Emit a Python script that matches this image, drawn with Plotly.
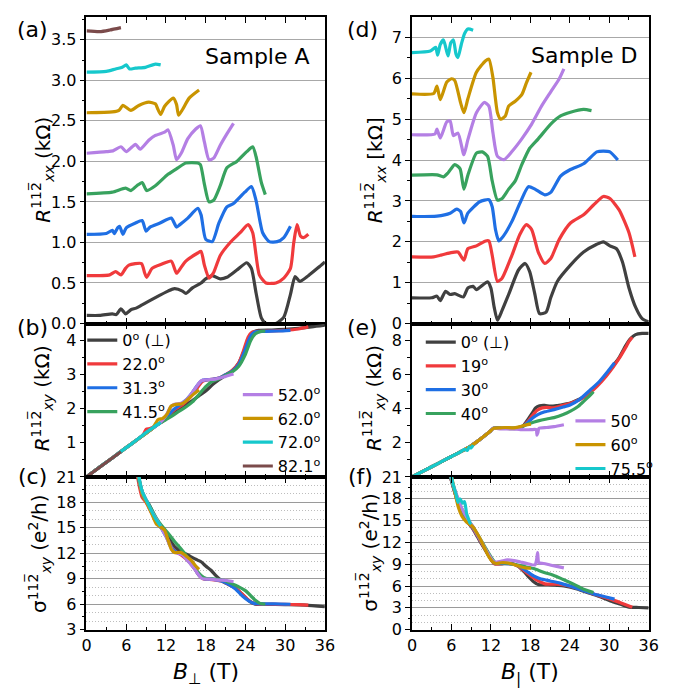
import plotly.graph_objects as go

# ---------------- DATA (B in T) ----------------
angles_A = ["0<sup>o</sup> (⊥)", "22.0<sup>o</sup>", "31.3<sup>o</sup>", "41.5<sup>o</sup>",
            "52.0<sup>o</sup>", "62.0<sup>o</sup>", "72.0<sup>o</sup>", "82.1<sup>o</sup>"]
angles_D = ["0<sup>o</sup> (⊥)", "19<sup>o</sup>", "30<sup>o</sup>", "40<sup>o</sup>",
            "50<sup>o</sup>", "60<sup>o</sup>", "75.5<sup>o</sup>"]
colors = ["#404040", "#f03a3c", "#1f6fe4", "#38a25e", "#b47fe4", "#c99400", "#16c8cc", "#7b4b4b"]

# Sample A, Rxx (kOhm, curves offset as in the figure)
A_rxx_0 = [(0,0.10),(2,0.10),(3.9,0.12),(4.5,0.11),(5.2,0.18),(5.9,0.12),(6.7,0.17),(7.5,0.19),(8.4,0.23),(10.4,0.32),(12.3,0.40),(13.3,0.43),(14.5,0.40),(15.0,0.37),(16.0,0.44),(17.3,0.50),(18.0,0.55),(19.0,0.59),(20.2,0.55),(21.2,0.57),(22.7,0.66),(24.2,0.75),(24.9,0.68),(25.6,0.38),(26.4,0.07),(27.1,0.0),(28.6,0.0),(29.8,0.08),(30.8,0.36),(31.5,0.58),(32.2,0.52),(33.5,0.59),(35.0,0.69),(36.0,0.76)]
A_rxx_22 = [(0,0.59),(3.5,0.60),(4.4,0.64),(5.2,0.60),(5.9,0.68),(6.4,0.72),(8.3,0.74),(8.8,0.62),(9.1,0.57),(9.9,0.68),(11.3,0.73),(12.8,0.77),(13.6,0.62),(14.1,0.67),(15.0,0.77),(16.8,0.87),(17.3,0.89),(17.8,0.72),(18.5,0.56),(19.2,0.63),(20.2,0.84),(21.7,1.00),(23.2,1.12),(24.4,1.22),(25.1,1.12),(26.1,0.60),(27.1,0.50),(28.6,0.50),(29.8,0.56),(30.8,0.68),(31.3,1.00),(31.8,1.22),(32.3,1.08),(32.8,1.06),(33.5,1.10)]
A_rxx_31 = [(0,1.10),(3.0,1.11),(3.9,1.15),(4.2,1.11),(4.7,1.18),(5.0,1.20),(5.5,1.10),(6.0,1.18),(7.4,1.24),(8.4,1.27),(9.0,1.14),(9.6,1.19),(11.1,1.24),(12.8,1.30),(13.6,1.19),(14.1,1.22),(15.3,1.30),(16.8,1.42),(17.3,1.34),(18.0,1.04),(19.0,1.01),(20.0,1.24),(21.2,1.44),(22.2,1.48),(23.9,1.62),(24.9,1.69),(25.6,1.52),(26.6,1.12),(27.6,1.01),(28.8,1.01),(29.8,1.06),(30.8,1.20)]
A_rxx_41 = [(0,1.60),(3.9,1.62),(5.9,1.67),(6.7,1.64),(7.6,1.70),(8.4,1.74),(9.1,1.64),(10.4,1.70),(12.3,1.84),(13.8,1.92),(15.0,1.98),(16.8,1.98),(17.2,1.96),(17.8,1.72),(18.5,1.50),(19.2,1.52),(20.2,1.70),(21.2,1.92),(22.7,2.00),(24.2,2.12),(25.1,2.18),(25.6,2.06),(26.4,1.74),(27.0,1.59)]
A_rxx_52 = [(0,2.10),(3.0,2.12),(4.0,2.13),(5.2,2.18),(6.0,2.12),(6.9,2.18),(7.4,2.21),(8.1,2.15),(9.4,2.26),(10.4,2.32),(11.8,2.36),(12.3,2.39),(13.1,2.20),(13.6,2.02),(14.3,2.10),(15.3,2.28),(16.5,2.40),(17.2,2.44),(17.8,2.24),(18.5,2.02),(19.2,2.04),(20.2,2.20),(21.2,2.34),(22.2,2.47)]
A_rxx_62 = [(0,2.60),(3.9,2.61),(4.9,2.63),(5.5,2.69),(6.7,2.63),(7.9,2.69),(9.4,2.73),(10.4,2.71),(10.8,2.64),(11.2,2.58),(11.8,2.68),(13.1,2.78),(13.6,2.70),(13.9,2.57),(14.5,2.64),(15.5,2.78),(17.0,2.88)]
A_rxx_72 = [(0,3.10),(3.0,3.11),(4.4,3.14),(5.4,3.16),(6.0,3.19),(6.5,3.14),(7.4,3.15),(8.9,3.16),(10.4,3.20),(11.2,3.19)]
A_rxx_82 = [(0,3.61),(2.0,3.60),(3.5,3.62),(5.2,3.65)]

# Sample A, Rxy (kOhm)
A_rxy_0 = [(0,0),(2,0.29),(4,0.57),(6,0.86),(8,1.14),(10,1.43),(12,1.71),(13,1.86),(14,2.00),(15,2.12),(16,2.24),(17,2.38),(18,2.52),(19,2.70),(20,2.85),(21,2.98),(22,3.12),(23,3.35),(23.8,3.70),(24.5,4.05),(25.2,4.25),(26,4.30),(28,4.31),(30,4.33),(32,4.36),(34,4.40),(36,4.45)]
A_rxy_22 = [(0,0),(2,0.29),(4,0.57),(6,0.86),(8,1.14),(8.6,1.25),(9.0,1.40),(9.6,1.42),(11,1.57),(12,1.72),(12.5,1.83),(13.5,2.00),(14.5,2.12),(15.5,2.30),(16.5,2.55),(17.5,2.80),(18,2.84),(19,2.86),(20,2.90),(21,3.00),(22,3.12),(23,3.35),(23.7,3.70),(24.4,4.10),(25,4.25),(26,4.27),(28,4.28),(30,4.30),(32,4.34),(33.5,4.40)]
A_rxy_31 = [(0,0),(2,0.29),(4,0.57),(6,0.86),(8,1.14),(10,1.43),(11,1.57),(12,1.72),(13,1.95),(14,2.10),(15,2.25),(16,2.48),(17,2.75),(17.6,2.84),(19,2.86),(20,2.90),(21,3.00),(22,3.10),(23,3.30),(23.9,3.70),(24.7,4.10),(25.4,4.25),(27,4.27),(29,4.28),(30.8,4.30)]
A_rxy_41 = [(0,0),(2,0.29),(4,0.57),(6,0.86),(8,1.14),(10,1.43),(11,1.56),(12,1.68),(13,1.80),(14,1.93),(15,2.05),(16,2.20),(17,2.42),(18,2.65),(19,2.80),(20,2.88),(21,2.98),(22,3.08),(23,3.25),(24,3.60),(24.8,4.00),(25.5,4.20),(26.3,4.27),(27,4.28)]
A_rxy_52 = [(0,0),(2,0.29),(4,0.57),(6,0.86),(8,1.14),(10,1.43),(11,1.57),(12,1.80),(12.7,2.05),(13.3,2.13),(14.5,2.17),(15.5,2.35),(16.5,2.62),(17.3,2.82),(18,2.85),(19.5,2.87),(21,2.95),(22.2,3.02)]
A_rxy_62 = [(0,0),(2,0.29),(4,0.57),(6,0.86),(8,1.14),(10,1.43),(10.8,1.68),(11.5,1.72),(12.2,1.85),(12.8,2.08),(13.5,2.13),(14.3,2.14),(15,2.22),(16,2.40),(17,2.55)]
A_rxy_72 = [(0,0),(2,0.29),(4,0.57),(5,0.72),(7,1.00),(9,1.30),(10,1.44),(11.2,1.60)]
A_rxy_82 = [(0,0),(2.5,0.36),(5.2,0.74)]

# Sample A, sigma_xy (e^2/h)
A_sxy_0 = [(7.6,21.5),(8.0,20.5),(8.6,18.8),(9.4,17.8),(10.2,16.5),(10.8,15.4),(11.8,14.6),(12.6,13.6),(13.3,12.8),(14.3,12.2),(15.3,11.8),(16.5,11.3),(17.3,11.0),(18.0,10.5),(18.8,10.0),(19.5,9.4),(20.2,8.9),(21.0,8.5),(21.7,8.3),(22.5,7.9),(23.2,7.4),(24.0,6.8),(24.7,6.3),(25.5,6.0),(27,5.98),(30,5.95),(33,5.9),(36,5.7)]
A_sxy_22 = [(7.6,21.5),(8.0,19.8),(8.4,18.6),(9.0,18.0),(9.8,16.8),(10.8,15.6),(11.8,14.4),(12.8,12.8),(13.5,12.2),(14.5,11.7),(15.5,11.0),(16.3,10.2),(17.0,9.4),(17.6,9.0),(19,8.9),(20.5,8.7),(21.5,8.3),(22.5,7.9),(23.5,7.2),(24.3,6.6),(25,6.2),(26,6.0),(28,6.0),(30,5.98),(32,5.95),(33.5,5.9)]
A_sxy_31 = [(7.7,21.5),(8.1,20.0),(8.6,18.6),(9.3,17.9),(10.2,16.5),(11.0,15.4),(12.0,14.0),(12.9,12.6),(13.6,12.1),(14.6,11.8),(15.5,11.0),(16.4,10.1),(17.1,9.3),(17.7,9.0),(19,8.95),(20.5,8.7),(21.5,8.3),(22.5,7.8),(23.5,7.0),(24.5,6.4),(25.3,6.1),(26.5,6.05),(28.5,6.05),(30.8,6.0)]
A_sxy_41 = [(7.7,21.5),(8.1,20.0),(8.8,18.6),(9.6,17.5),(10.5,16.2),(11.3,15.3),(12.3,14.4),(13.3,13.4),(14.2,12.6),(15.0,11.8),(15.8,10.9),(16.6,10.0),(17.3,9.4),(18,9.05),(19.5,8.95),(21,8.75),(22,8.4),(23,8.05),(24,7.6),(24.8,7.0),(25.6,6.4),(26.2,6.1),(27,6.0)]
A_sxy_52 = [(7.8,21.5),(8.3,19.5),(9.0,18.3),(9.8,17.0),(10.5,16.1),(11.3,15.0),(12.0,14.0),(12.6,12.9),(13.1,12.2),(14.0,11.95),(14.5,11.8),(15.2,11.2),(16.0,10.5),(16.8,9.6),(17.4,9.05),(18.5,8.95),(20,8.85),(21.2,8.8),(22.2,8.65)]
A_sxy_62 = [(7.8,21.5),(8.4,19.0),(9.2,17.8),(10.0,16.4),(10.6,15.4),(11.2,15.1),(11.8,14.7),(12.3,13.6),(12.8,12.5),(13.3,12.1),(14.3,12.1),(15.0,11.7),(15.8,11.2),(16.4,10.6),(17,10.1)]
A_sxy_72 = [(7.8,21.5),(8.4,19.3),(9.0,18.3),(9.8,17.0),(10.5,16.0),(11.2,15.2)]

# Sample D, Rxx (kOhm, offset curves)
D_rxx_0 = [(0,0.63),(3.0,0.63),(3.8,0.67),(4.3,0.56),(5.1,0.79),(5.8,0.71),(6.5,0.73),(7.8,0.65),(8.5,0.87),(9.3,0.91),(9.8,0.83),(11.5,1.02),(12.0,0.87),(12.5,0.40),(13.0,0.08),(13.7,0.32),(14.7,0.71),(16.2,1.31),(17.2,1.47),(17.9,1.27),(18.7,0.71),(19.4,0.24),(20.4,0.28),(21.1,0.63),(22.1,1.03),(24.1,1.43),(26.1,1.75),(28.1,1.94),(29.1,2.00),(30.1,1.90),(31.1,1.83),(32.0,1.51),(33.0,0.87),(34.0,0.40),(35.0,0.12),(36.0,0.04)]
D_rxx_19 = [(0,1.63),(3.3,1.63),(4.3,1.67),(5.8,1.73),(7.0,1.75),(7.9,1.55),(8.5,1.83),(9.8,1.90),(11.2,2.02),(11.7,2.02),(12.2,1.67),(13.0,1.03),(13.7,1.11),(15.2,1.67),(16.4,2.18),(17.4,2.42),(18.2,2.30),(19.2,1.75),(20.2,1.47),(21.1,1.59),(22.4,2.06),(24.1,2.46),(26.1,2.66),(27.6,2.90),(29.1,3.11),(30.1,3.06),(31.5,2.78),(33.0,2.22),(33.9,1.63)]
D_rxx_30 = [(0,2.62),(3.8,2.63),(5.8,2.70),(6.8,2.80),(7.4,2.74),(7.9,2.46),(8.5,2.70),(10.3,2.98),(11.7,3.03),(12.2,2.86),(12.7,2.30),(13.2,2.02),(13.9,2.14),(15.2,2.50),(16.4,2.94),(17.7,3.35),(18.7,3.29),(20.2,3.15),(21.1,3.21),(22.6,3.61),(24.1,3.77),(26.1,3.91),(28.1,4.20),(29.1,4.22),(30.1,4.20),(31.3,4.00)]
D_rxx_40 = [(0,3.63),(3.8,3.64),(4.8,3.59),(5.5,3.69),(6.5,3.89),(7.3,3.79),(7.9,3.29),(8.5,3.63),(9.8,4.17),(10.7,4.20),(11.5,4.09),(12.2,3.49),(13.0,3.02),(13.7,3.06),(14.7,3.29),(15.7,3.49),(16.7,3.89),(17.9,4.29),(19.2,4.52),(21.1,4.88),(22.6,5.08),(24.1,5.17),(26.1,5.24),(27.3,5.21)]
D_rxx_50 = [(0,4.62),(3.5,4.64),(3.8,4.76),(4.3,4.54),(5.3,4.94),(5.8,4.96),(6.3,4.60),(7.0,4.66),(7.9,4.13),(8.5,4.50),(9.8,5.16),(11.0,5.41),(11.7,5.32),(12.3,4.68),(13.0,4.09),(14.0,4.01),(15.2,4.21),(16.7,4.52),(18.2,4.88),(19.7,5.32),(21.1,5.67),(22.4,5.99),(23.1,6.23)]
D_rxx_60 = [(0,5.62),(3.3,5.63),(3.8,5.81),(4.3,5.48),(5.3,5.91),(6.0,5.99),(6.5,5.95),(7.4,5.40),(7.9,5.16),(8.5,5.50),(9.8,6.15),(11.2,6.43),(11.7,6.47),(12.3,6.03),(13.0,5.16),(13.5,5.00),(14.2,5.08),(14.7,5.32),(15.7,5.44),(16.7,5.60),(17.4,5.89),(18.1,6.15)]
D_rxx_75 = [(0,6.63),(2.8,6.67),(3.6,6.76),(3.9,6.57),(4.3,6.83),(4.8,6.94),(5.2,6.71),(5.5,6.55),(5.9,6.87),(6.3,6.94),(6.7,6.59),(7.0,6.51),(7.5,6.83),(8.0,7.10),(8.5,7.21),(9.3,7.18)]

# Sample D, Rxy (kOhm)
D_rxy_0 = [(0,0),(2,0.40),(4,0.80),(6,1.20),(8,1.60),(9,1.82),(10,2.10),(11,2.40),(11.8,2.65),(12.4,2.85),(14,2.85),(15,2.83),(16,2.85),(16.8,2.95),(17.5,3.30),(18.2,3.70),(18.8,4.05),(19.4,4.18),(20.2,4.20),(21,4.15),(22,4.18),(23,4.25),(24.1,4.34),(25,4.48),(26.1,4.70),(27,4.95),(28.1,5.38),(29.5,5.95),(30.6,6.52),(31.5,7.00),(32.5,7.70),(33.2,8.10),(34,8.35),(35,8.42),(36,8.42)]
D_rxy_19 = [(0,0),(2,0.40),(4,0.80),(6,1.20),(8,1.60),(9,1.82),(10,2.10),(11,2.40),(11.8,2.65),(12.4,2.85),(14,2.85),(16,2.86),(16.8,2.95),(17.5,3.20),(18.3,3.60),(19,3.90),(19.8,4.05),(20.5,4.08),(21.5,4.05),(22.5,4.15),(24,4.30),(25,4.45),(26.1,4.65),(27,4.92),(28.1,5.30),(29.5,5.90),(30.6,6.45),(31.5,6.95),(32.5,7.60),(33,7.95),(33.5,8.20)]
D_rxy_30 = [(0,0),(2,0.40),(4,0.80),(6,1.20),(8,1.60),(9,1.82),(10,2.10),(11,2.40),(11.8,2.65),(12.4,2.85),(14,2.85),(16,2.86),(16.8,2.95),(17.5,3.15),(18.3,3.45),(19.2,3.67),(20.2,3.82),(21.6,3.95),(23,4.10),(24.1,4.24),(25.5,4.55),(27.1,5.10),(28.5,5.60),(29.8,6.20),(30.8,6.70)]
D_rxy_40 = [(0,0),(2,0.40),(4,0.80),(6,1.20),(8,1.60),(9,1.82),(10,2.10),(11,2.40),(11.8,2.65),(12.4,2.85),(14,2.85),(16,2.88),(17,3.00),(18,3.15),(19.2,3.29),(20.5,3.40),(21.6,3.48),(23,3.66),(24.1,3.86),(25.2,4.12),(26.1,4.43),(27,4.75),(27.6,5.00)]
D_rxy_50 = [(0,0),(2,0.40),(4,0.80),(6,1.20),(8,1.60),(9,1.82),(10,2.10),(11,2.40),(11.8,2.65),(12.4,2.85),(13.5,2.82),(15.2,2.82),(16.5,2.78),(18,2.77),(18.9,2.78),(19.0,2.45),(19.15,2.60),(19.3,2.85),(20.5,2.90),(21.6,2.95),(23.1,3.06)]
D_rxy_60 = [(0,0),(2,0.40),(4,0.80),(6,1.20),(8,1.60),(9,1.82),(10,2.10),(11,2.40),(11.8,2.65),(12.4,2.85),(13.5,2.88),(14.2,2.90),(15.5,2.88),(16.5,2.95),(17.3,3.05),(18.1,3.10)]
D_rxy_75 = [(0,0),(2,0.40),(4,0.80),(6,1.20),(7.5,1.50),(8,1.62),(8.4,1.55),(8.7,1.75),(9.0,1.70),(9.3,1.87)]

# Sample D, sigma_xy (e^2/h)
D_sxy_0 = [(5.6,22),(5.9,20.8),(6.5,18.9),(7.0,17.4),(7.5,16.2),(8.3,15.0),(9.3,13.8),(10.0,12.7),(10.7,11.6),(11.5,10.4),(12.5,9.1),(13.5,9.05),(15.2,9.1),(16.2,8.7),(17.0,8.0),(17.7,7.3),(18.5,6.6),(19.2,6.2),(20.7,6.2),(22,6.1),(23.1,6.0),(25.1,5.6),(27,5.0),(28.1,4.7),(30.6,3.8),(32,3.4),(33,3.1),(34.5,3.05),(36,3.0)]
D_sxy_19 = [(5.6,22),(6.0,20.5),(6.6,18.6),(7.3,16.9),(8.2,15.2),(9.2,14.0),(10.2,12.5),(11.3,10.8),(12.5,9.1),(14,9.1),(15.5,9.0),(16.5,8.5),(17.5,7.8),(18.5,7.1),(19.2,6.7),(20.2,6.3),(22,6.25),(23.5,6.1),(25.5,5.6),(28,4.8),(30.5,4.1),(32,3.6),(33.5,3.1)]
D_sxy_30 = [(5.6,22),(6.0,20.6),(6.6,18.7),(7.3,17.0),(8.2,15.3),(9.2,14.1),(10.2,12.6),(11.3,10.9),(12.5,9.2),(14,9.1),(15.5,9.0),(16.5,8.6),(17.5,8.0),(18.5,7.4),(19.5,7.0),(21,6.7),(22.5,6.4),(24,6.0),(26,5.4),(28.1,4.8),(29.5,4.5),(30.8,4.2)]
D_sxy_40 = [(5.6,22),(6.0,20.6),(6.7,18.6),(7.4,17.0),(8.3,15.4),(9.3,14.1),(10.3,12.6),(11.4,10.9),(12.6,9.3),(14,9.2),(15.5,9.0),(17,8.7),(18.5,8.4),(20,7.9),(21.5,7.5),(23,6.9),(24.5,6.3),(26,5.6),(27.6,5.1)]
D_sxy_50 = [(5.7,22),(6.1,20.5),(6.8,18.5),(7.5,16.8),(8.5,15.2),(9.5,13.8),(10.5,12.2),(11.5,10.6),(12.5,9.3),(13.5,9.4),(14.5,9.6),(15.5,9.5),(16.5,9.3),(17.5,9.1),(18.7,8.9),(18.95,9.6),(19.1,10.6),(19.3,9.2),(20,9.1),(21,8.9),(22,8.7),(23.1,8.5)]
D_sxy_60 = [(5.8,22),(6.1,20.7),(6.5,19.0),(7.0,17.0),(7.6,15.6),(8.3,14.8),(9.2,14.2),(10.3,12.6),(11.0,11.3),(11.7,10.0),(12.3,9.3),(12.8,9.1),(13.5,9.2),(14.2,9.2),(15,9.1),(15.7,8.9),(16.5,8.65),(17.2,8.5),(18.1,8.45)]
D_sxy_75 = [(5.8,22),(6.2,20.2),(6.7,18.6),(7.0,17.5),(7.3,18.0),(7.7,17.4),(8.0,17.6),(8.3,16.0),(8.6,15.2),(8.8,14.7),(9.0,14.5)]

A_rxx = [A_rxx_0, A_rxx_22, A_rxx_31, A_rxx_41, A_rxx_52, A_rxx_62, A_rxx_72, A_rxx_82]
A_rxy = [A_rxy_0, A_rxy_22, A_rxy_31, A_rxy_41, A_rxy_52, A_rxy_62, A_rxy_72, A_rxy_82]
A_sxy = [A_sxy_0, A_sxy_22, A_sxy_31, A_sxy_41, A_sxy_52, A_sxy_62, A_sxy_72, None]
D_rxx = [D_rxx_0, D_rxx_19, D_rxx_30, D_rxx_40, D_rxx_50, D_rxx_60, D_rxx_75]
D_rxy = [D_rxy_0, D_rxy_19, D_rxy_30, D_rxy_40, D_rxy_50, D_rxy_60, D_rxy_75]
D_sxy = [D_sxy_0, D_sxy_19, D_sxy_30, D_sxy_40, D_sxy_50, D_sxy_60, D_sxy_75]

# ---------------- FIGURE ----------------
FONT = "DejaVu Sans"
fig = go.Figure()

def add(curve, xa, ya, color, name=None, legend=None, group=None):
    if curve is None:
        return
    fig.add_trace(go.Scatter(
        x=[p[0] for p in curve], y=[p[1] for p in curve], mode="lines",
        line=dict(color=color, width=3.2, shape="spline", smoothing=0.6),
        xaxis=xa, yaxis=ya, name=name or "", showlegend=legend is not None,
        legend=legend or "legend", legendgroup=group, hoverinfo="skip"))

for i, c in enumerate(A_rxx):
    add(c, "x", "y", colors[i])
for i, c in enumerate(A_rxy):
    add(c, "x2", "y2", colors[i], angles_A[i], "legend" if i < 4 else "legend2", "a%d" % i)
for i, c in enumerate(A_sxy):
    add(c, "x3", "y3", colors[i])
for i, c in enumerate(D_rxx):
    add(c, "x4", "y4", colors[i])
for i, c in enumerate(D_rxy):
    add(c, "x5", "y5", colors[i], angles_D[i], "legend3" if i < 4 else "legend4", "d%d" % i)
for i, c in enumerate(D_sxy):
    add(c, "x6", "y6", colors[i])
# empty traces so the tick-only overlay axes exist
fig.add_trace(go.Scatter(x=[], y=[], xaxis="x3", yaxis="y7", showlegend=False, hoverinfo="skip"))
fig.add_trace(go.Scatter(x=[], y=[], xaxis="x6", yaxis="y8", showlegend=False, hoverinfo="skip"))

W, H = 691, 700
LX = [83.3 / W, 327 / W]
RX = [416 / W, 658 / W]
Y1 = [1 - 323.3 / H, 1 - 8.3 / H]
Y2 = [1 - 481 / H, 1 - 323.3 / H]
Y3 = [1 - 638 / H, 1 - 481 / H]

tickfont = dict(family=FONT, size=16, color="black")

def xax(domain, anchor, labels):
    return dict(domain=domain, anchor=anchor, range=[0, 36], tickvals=[0, 6, 12, 18, 24, 30, 36],
                showticklabels=labels, ticks="inside", ticklen=6, tickwidth=1.2, tickcolor="black",
                minor=dict(dtick=3, tick0=0, ticks="inside", ticklen=3, tickcolor="black"),
                showline=True, linecolor="black", linewidth=1.5, mirror="ticks",
                showgrid=False, zeroline=False, tickfont=tickfont)

def yax(domain, anchor, rng, tickvals, ticktext=None, minor=None):
    d = dict(domain=domain, anchor=anchor, range=rng, tickvals=tickvals,
             ticks="outside", ticklen=5, tickwidth=1.2, tickcolor="black",
             showline=True, linecolor="black", linewidth=1.5, mirror=True,
             zeroline=False, tickfont=tickfont, showgrid=False)
    if ticktext is not None:
        d["ticktext"] = ticktext
    if minor is not None:
        d["minor"] = dict(tickvals=minor, ticks="outside", ticklen=3, tickcolor="black")
    return d

def tickonly(domain, anchor, over, rng, vals):
    return dict(domain=domain, anchor=anchor, overlaying=over, range=rng, tickvals=vals,
                ticks="outside", ticklen=3, tickwidth=1.2, tickcolor="black",
                showticklabels=False, showline=False, showgrid=False, zeroline=False)

a_ticks = [0, 0.5, 1.0, 1.5, 2.0, 2.5, 3.0, 3.5]
fig.update_layout(
    xaxis=xax(LX, "y", False),
    xaxis2=xax(LX, "y2", False),
    xaxis3=xax(LX, "y3", True),
    xaxis4=xax(RX, "y4", False),
    xaxis5=xax(RX, "y5", False),
    xaxis6=xax(RX, "y6", True),
    yaxis=yax(Y1, "x", [0, 3.78], a_ticks, ["%.1f" % v for v in a_ticks],
              minor=[0.25, 0.75, 1.25, 1.75, 2.25, 2.75, 3.25, 3.75]),
    yaxis2=yax(Y2, "x2", [0, 4.5], [1, 2, 3, 4], minor=[0.5, 1.5, 2.5, 3.5, 4.5]),
    yaxis3=yax(Y3, "x3", [3, 21], [3, 6, 9, 12, 15, 18, 21]),
    yaxis4=yax(Y1, "x4", [0, 7.5], [0, 1, 2, 3, 4, 5, 6, 7], minor=[0.5, 1.5, 2.5, 3.5, 4.5, 5.5, 6.5]),
    yaxis5=yax(Y2, "x5", [0, 9], [2, 4, 6, 8], minor=[1, 3, 5, 7, 9]),
    yaxis6=yax(Y3, "x6", [0, 21], [0, 3, 6, 9, 12, 15, 18, 21]),
    yaxis7=tickonly(Y3, "x3", "y3", [3, 21], [4.5, 7.5, 10.5, 13.5, 16.5, 19.5]),
    yaxis8=tickonly(Y3, "x6", "y6", [0, 21], [1.5, 4.5, 7.5, 10.5, 13.5, 16.5, 19.5]),
)

# gridlines
fig.layout.yaxis.update(showgrid=True, gridcolor="#a8a8a8", gridwidth=1.2)
fig.layout.yaxis4.update(showgrid=True, gridcolor="#a8a8a8", gridwidth=1.2)
for ax in ["yaxis3", "yaxis6"]:
    fig.layout[ax].update(showgrid=True, gridcolor="#9a9a9a", gridwidth=1.2,
                          minor=dict(dtick=1, tick0=0, ticks="", showgrid=True,
                                     gridcolor="#bdbdbd", griddash="1px,2px", gridwidth=1))

legfont = dict(family=FONT, size=16, color="black")
def leg(x, ytop):
    return dict(x=x / W, y=1 - ytop / H, xanchor="left", yanchor="top", bgcolor="rgba(0,0,0,0)",
                font=legfont, tracegroupgap=0, itemwidth=30, borderwidth=0)

fig.update_layout(
    legend=leg(79, 323), legend2=leg(238, 379),
    legend3=leg(425, 325), legend4=leg(578, 406),
)

ann = []
def txt(x, y, s, size, angle=0, xanchor="center"):
    ann.append(dict(x=x / W, y=1 - y / H, xref="paper", yref="paper", text=s, showarrow=False,
                    textangle=angle, xanchor=xanchor, yanchor="middle",
                    font=dict(family=FONT, size=size, color="black")))

sup = "11" + "2\u0305"
txt(28, 21, "(a)", 22); txt(28, 327, "(b)", 22); txt(28, 481, "(c)", 22)
txt(365, 21, "(d)", 22); txt(365, 327, "(e)", 22); txt(363, 481, "(f)", 22)
txt(258, 49, "Sample A", 22); txt(592, 48, "Sample D", 22)
txt(38, 165, "<i>R</i><sup>%s</sup><sub><i>xx</i></sub> (kΩ)" % sup, 20, -90)
txt(37, 400, "<i>R</i><sup>%s</sup><sub><i>xy</i></sub> (kΩ)" % sup, 20, -90)
txt(35, 560, "σ<sup>%s</sup><sub><i>xy</i></sub> (e<sup>2</sup>/h)" % sup, 20, -90)
txt(378, 166, "<i>R</i><sup>%s</sup><sub><i>xx</i></sub> [kΩ]" % sup, 20, -90)
txt(376, 400, "<i>R</i><sup>%s</sup><sub><i>xy</i></sub> (kΩ)" % sup, 20, -90)
txt(373, 558, "σ<sup>%s</sup><sub><i>xy</i></sub> (e<sup>2</sup>/h)" % sup, 20, -90)
txt(205, 683, "<i>B</i><sub>⊥</sub> (T)", 22)
txt(537, 683, "<i>B</i><sub>|</sub> (T)", 22)

fig.update_layout(width=W, height=H, margin=dict(l=0, r=0, t=0, b=0),
                  paper_bgcolor="white", plot_bgcolor="white", annotations=ann,
                  font=dict(family=FONT, color="black"))

fig.write_html("out.html")
